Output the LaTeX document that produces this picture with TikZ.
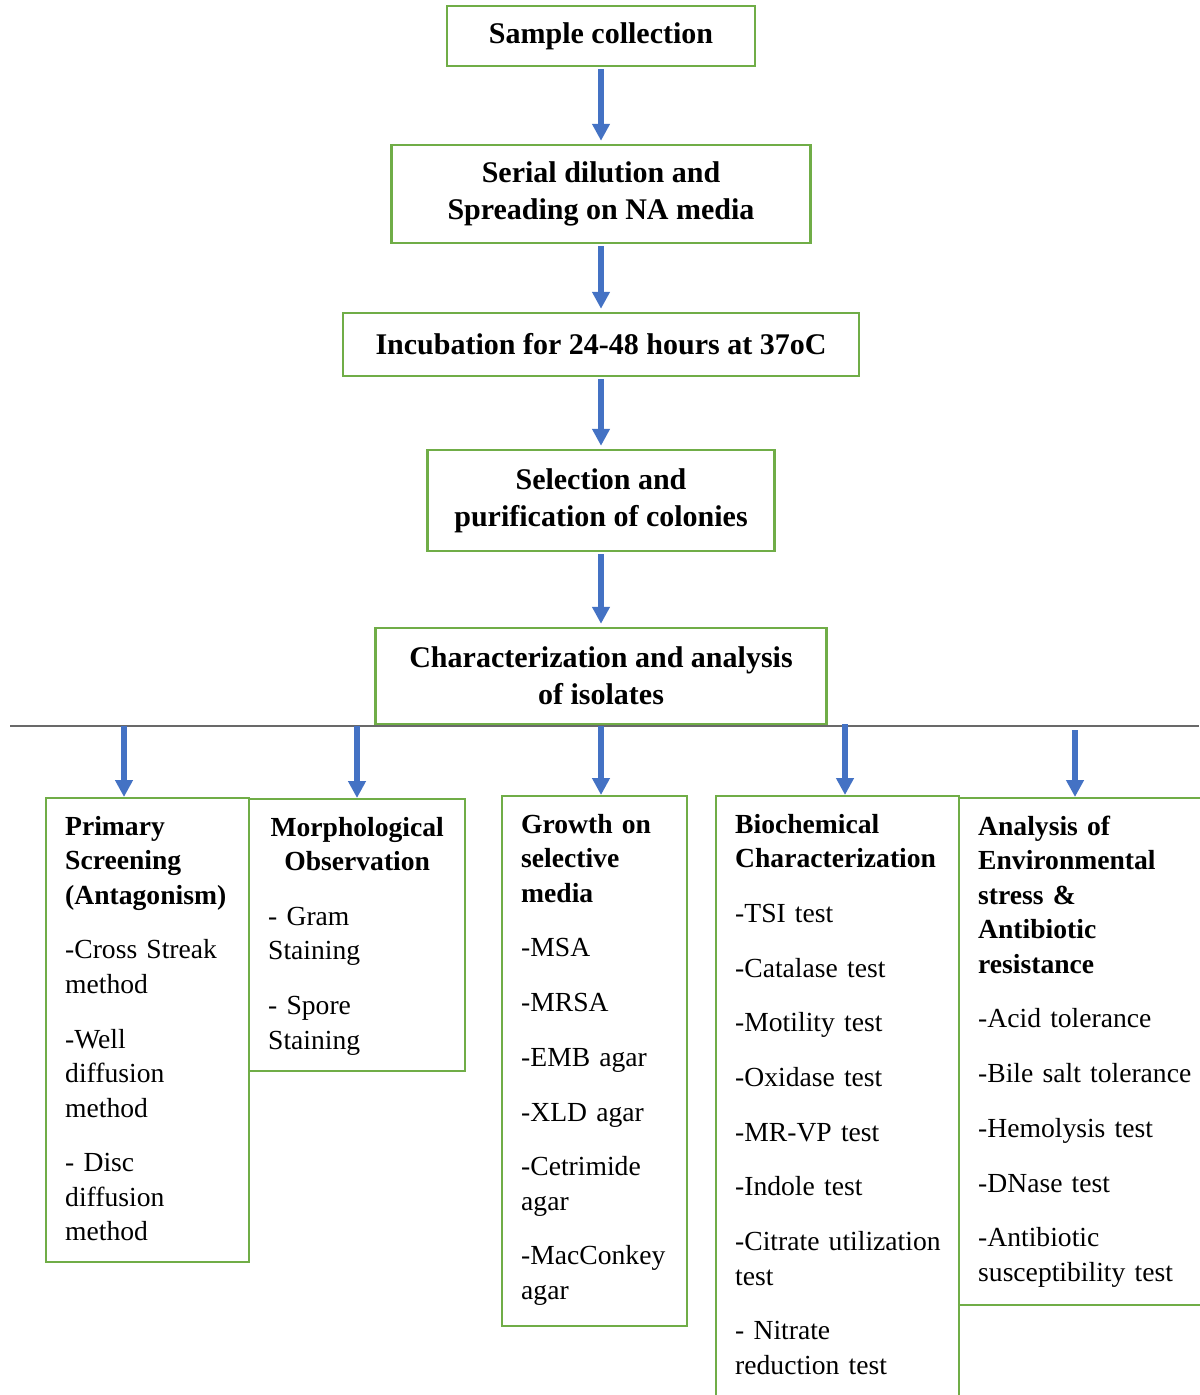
\documentclass[tikz,border=0pt]{standalone}
\usepackage{fontspec}
\setmainfont{Liberation Serif}
\usetikzlibrary{arrows.meta}

\definecolor{boxgreen}{RGB}{112,173,71}
\definecolor{arrowblue}{RGB}{68,114,196}
\definecolor{linegray}{RGB}{105,105,105}

\tikzstyle{topbox}=[draw=boxgreen,line width=1.2pt,align=center,inner sep=0pt,font=\fontsize{15}{18.5}\selectfont\bfseries]
\tikzstyle{testbox}=[draw=boxgreen,line width=1.2pt,anchor=north west,align=left,inner xsep=9.5pt,inner ysep=0pt,text height=18.5pt,font=\fontsize{13.8}{17.25}\selectfont]
\tikzstyle{flowarrow}=[draw=arrowblue,line width=3pt,-{Triangle[width=8.5pt,length=8.5pt]}]
\tikzstyle{splitline}=[draw=linegray,line width=1pt]

\begin{document}
\begin{tikzpicture}[x=0.5pt,y=-0.5pt]
        \useasboundingbox[fill=white] (0,0) rectangle (1199,1395);
        %% The main steps
        \node[topbox,minimum width=154pt,minimum height=30pt] (collect) at (601,36) {Sample collection};
        \node[topbox,minimum width=209.5pt,minimum height=49pt] (dilute) at (601,194) {Serial dilution and\\Spreading on NA media};
        \node[topbox,minimum width=258pt,minimum height=31.5pt] (incub) at (601,344.5) {Incubation for 24-48 hours at 37oC};
        \node[topbox,minimum width=173.5pt,minimum height=50.5pt] (select) at (601,500.5) {Selection and\\purification of colonies};
        \node[topbox,minimum width=225.5pt,minimum height=48pt] (charac) at (601,676) {Characterization and analysis\\of isolates};
        \foreach \a/\b in {collect/dilute,dilute/incub,incub/select,select/charac}
        \draw[flowarrow,shorten <=1pt,shorten >=1.5pt] (\a) -- (\b);

        %% The splitting line
        \coordinate (split-w) at (10,726);
        \coordinate (split-e) at (1199,726);
        \draw[splitline] (split-w) -- (split-e);
        \coordinate (br1) at (124,726);
        \coordinate (br2) at (357,726);
        \coordinate (br3) at (601,726);
        \coordinate (br4) at (845,724);
        \coordinate (br5) at (1075,730);

        %%% The test boxes
        \node[testbox,text width=82.5pt,text depth=213.5pt] (prim) at (45,797)
        {\textbf{Primary}\\\textbf{Screening}\\\textbf{(Antagonism)}\\[10.1pt]
        -Cross Streak\\method\\[10.1pt]
        -Well\\diffusion\\method\\[10.1pt]
        - Disc\\diffusion\\method};
        \node[testbox,text width=89pt,text depth=117.5pt] (morph) at (248,798)
        {\makebox[\linewidth]{\textbf{Morphological}}\\\makebox[\linewidth]{\textbf{Observation}}\\[10.1pt]
        - Gram\\Staining\\[10.1pt]
        - Spore\\Staining};
        \node[testbox,text width=73.5pt,text depth=246.5pt] (growth) at (501,795)
        {\textbf{Growth on}\\\textbf{selective}\\\textbf{media}\\[10.1pt]
        -MSA\\[10.1pt]
        -MRSA\\[10.1pt]
        -EMB agar\\[10.1pt]
        -XLD agar\\[10.1pt]
        -Cetrimide\\agar\\[10.1pt]
        -MacConkey\\agar};
        \node[testbox,text width=102.5pt,text depth=289pt] (bioc) at (715,795)
        {\textbf{Biochemical}\\\textbf{Characterization}\\[10.1pt]
        -TSI test\\[10.1pt]
        -Catalase test\\[10.1pt]
        -Motility test\\[10.1pt]
        -Oxidase test\\[10.1pt]
        -MR-VP test\\[10.1pt]
        -Indole test\\[10.1pt]
        \mbox{-Citrate utilization}\\test\\[10.1pt]
        - Nitrate\\reduction test};
        \node[testbox,text width=107pt,text depth=235pt] (envi) at (958,797)
        {\textbf{Analysis of}\\\textbf{Environmental}\\\textbf{stress \&}\\\textbf{Antibiotic}\\\textbf{resistance}\\[10.1pt]
        -Acid tolerance\\[10.1pt]
        \mbox{-Bile salt tolerance}\\[10.1pt]
        -Hemolysis test\\[10.1pt]
        -DNase test\\[10.1pt]
        -Antibiotic\\susceptibility test};

        %%% Branch arrows
        \foreach \c/\b in {br1/prim,br2/morph,br3/growth,br4/bioc,br5/envi}
        \draw[flowarrow] (\c) -- (\c |- \b.north);
\end{tikzpicture}
\end{document}
